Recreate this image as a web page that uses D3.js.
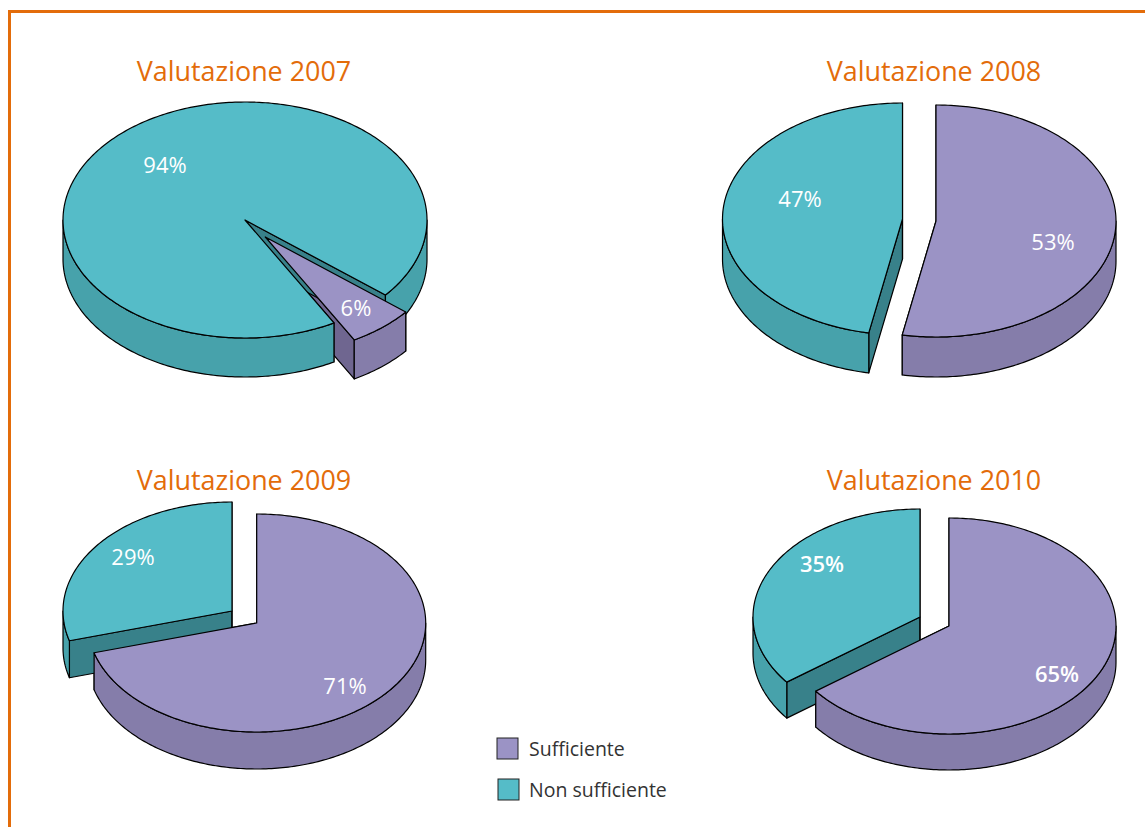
<!doctype html>
<html>
<head>
  <meta charset="utf-8">
  <script src="https://cdnjs.cloudflare.com/ajax/libs/d3/7.8.5/d3.min.js"></script>
  <style>
    html, body { margin: 0; padding: 0; background: #fff; }
    svg { display: block; }
    text { font-family: "Open Sans", sans-serif; }
  </style>
</head>
<body>
  <svg class="chart" width="1145" height="827"></svg>
  <script type="text/javascript">
    // values, labels show them rounded
    var years = ["2007", "2008", "2009", "2010"]
    var categories = ["Sufficiente", "Non sufficiente"]
    var sufficiente = [5.9, 53, 70.6, 64.7]
    var nonSufficiente = [94.1, 47, 29.4, 35.3]
    var firstAngle = [129.5, 0, 0, 0]

    var topColor = ["#9b93c5", "#55bcc8"]
    var wallColor = ["#857daa", "#47a2ab"]
    var cutColor = ["#6f6690", "#38818a"]

    // where each pie sits on the page: apex of each slice, radii, thickness
    var layout = [
      { title: [244, 72], apex: [[265.3, 237], [245, 220]], rx: 182, ry: 118, depth: 39, labels: [[356, 308], [165, 165]], bold: false },
      { title: [934, 72], apex: [[936, 221], [902.5, 219]], rx: 180, ry: 116, depth: 40, labels: [[1053, 242], [800, 199]], bold: false },
      { title: [244, 481], apex: [[256.7, 623], [232, 611]], rx: 169, ry: 109, depth: 37, labels: [[345, 686], [133, 557]], bold: false },
      { title: [934, 481], apex: [[949, 626], [920, 617]], rx: 167, ry: 108, depth: 36, labels: [[1057, 674], [822, 564]], bold: true }
    ]

    var orange = "#e36c0a"
    var svg = d3.select("svg")
    var pctFormat = d3.format(".0f")

    svg.append("path")
      .attr("d", "M1145,11.5H9.5V827")
      .attr("fill", "none")
      .attr("stroke", orange)
      .attr("stroke-width", 3)

    var pie = d3.pie().sort(null)
    var line = d3.line()

    // visible part of the rim: only the angles that face the viewer
    function frontRanges(a0, a1) {
      var out = []
      for (var k = -1; k < 3; k++) {
        var lo = Math.max(a0, Math.PI / 2 + k * 2 * Math.PI)
        var hi = Math.min(a1, 3 * Math.PI / 2 + k * 2 * Math.PI)
        if (hi > lo) out.push([lo, hi])
      }
      return out
    }

    function arcPoints(x, y, a0, a1) {
      var n = Math.max(2, Math.ceil((a1 - a0) * 60))
      return d3.range(n + 1).map(i => {
        var a = a0 + (a1 - a0) * i / n
        return [x(Math.sin(a)), y(-Math.cos(a))]
      })
    }

    function sliceParts(g, slice, i, spec) {
      var x = d3.scaleLinear().domain([-1, 1]).range([spec.apex[i][0] - spec.rx, spec.apex[i][0] + spec.rx])
      var y = d3.scaleLinear().domain([-1, 1]).range([spec.apex[i][1] - spec.ry, spec.apex[i][1] + spec.ry])
      var down = p => [p[0], p[1] + spec.depth]
      var apex = [x(0), y(0)]

      var face = (d, fill) => g.append("path")
        .attr("d", d)
        .attr("fill", fill)
        .attr("stroke", "#000")
        .attr("stroke-width", 1.2)
        .attr("stroke-linejoin", "round")

      return {
        cuts: () => {
          ;[slice.startAngle, slice.endAngle].forEach(a => {
            var rim = [x(Math.sin(a)), y(-Math.cos(a))]
            face(line([apex, rim, down(rim), down(apex)]) + "Z", cutColor[i])
          })
        },
        rest: () => {
          frontRanges(slice.startAngle, slice.endAngle).forEach(r => {
            var upper = arcPoints(x, y, r[0], r[1])
            var lower = upper.map(down).reverse()
            face(line(upper.concat(lower)) + "Z", wallColor[i])
          })
          var rimTop = arcPoints(x, y, slice.startAngle, slice.endAngle)
          face(line([apex].concat(rimTop)) + "Z", topColor[i])
        }
      }
    }

    years.forEach((year, n) => {
      var spec = layout[n]
      var start = firstAngle[n] * Math.PI / 180
      var slices = pie.startAngle(start).endAngle(start + 2 * Math.PI)([sufficiente[n], nonSufficiente[n]])
      var g = svg.append("g")

      var purple = sliceParts(g, slices[0], 0, spec)
      var teal = sliceParts(g, slices[1], 1, spec)

      // purple cut faces sit behind the teal slice, its rim and top in front
      purple.cuts()
      teal.cuts()
      teal.rest()
      purple.rest()

      ;[sufficiente[n], nonSufficiente[n]].forEach((v, i) => {
        g.append("text")
          .attr("x", spec.labels[i][0])
          .attr("y", spec.labels[i][1] + 8)
          .attr("text-anchor", "middle")
          .attr("font-size", 22)
          .attr("font-weight", spec.bold ? 600 : 400)
          .attr("fill", "#fff")
          .text(pctFormat(v) + "%")
      })

      svg.append("text")
        .attr("x", spec.title[0])
        .attr("y", spec.title[1] + 9)
        .attr("text-anchor", "middle")
        .attr("font-size", 26.9)
        .attr("fill", orange)
        .text("Valutazione " + year)
    })

    var legendX = d3.scaleOrdinal().domain(categories).range([497, 498])
    var legendY = d3.scaleOrdinal().domain(categories).range([738, 779])

    var legend = svg.selectAll(".legend")
      .data(categories)
      .enter()
      .append("g")
      .attr("class", "legend")
      .attr("transform", d => "translate(" + legendX(d) + "," + legendY(d) + ")")

    legend.append("rect")
      .attr("width", 21)
      .attr("height", 21)
      .attr("fill", (d, i) => topColor[i])
      .attr("stroke", "#222")
      .attr("stroke-width", 1)

    legend.append("text")
      .attr("x", (d, i) => 32 - i)
      .attr("y", 18)
      .attr("font-size", 19.5)
      .attr("fill", "#333")
      .text(d => d)
  </script>
</body>
</html>
